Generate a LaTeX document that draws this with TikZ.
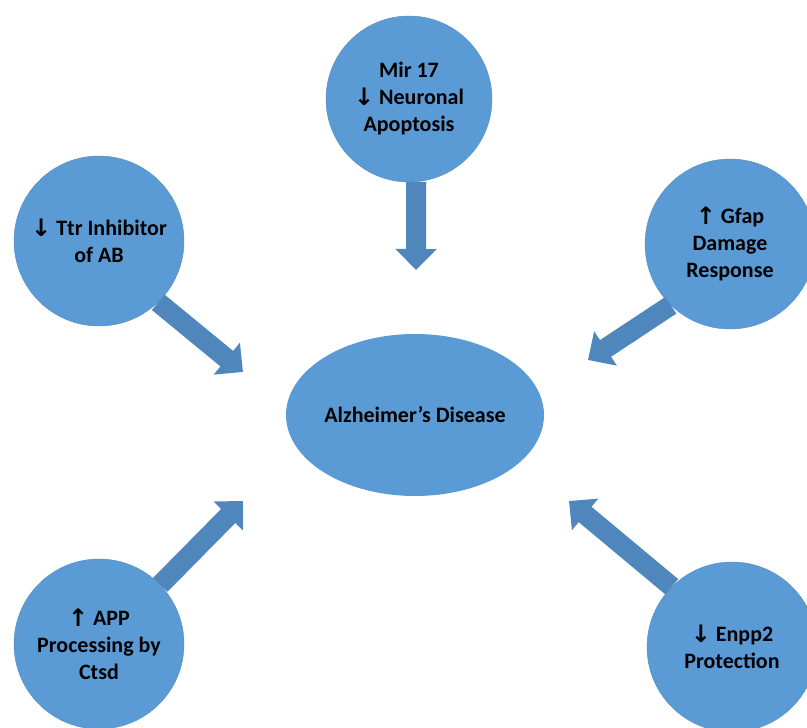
\documentclass[tikz,border=0pt]{standalone}
\usepackage{fontspec}
\setmainfont{Carlito}
\newfontfamily\arrowfont{DejaVu Sans}
\usetikzlibrary{arrows.meta,shapes.geometric}
\definecolor{bubble}{HTML}{5B9BD5}
\definecolor{arrowblue}{HTML}{4F87BD}
\newcommand{\up}{\raisebox{-1pt}{\arrowfont\fontsize{24}{27}\selectfont ↑}}
\newcommand{\down}{\raisebox{-1pt}{\arrowfont\fontsize{24}{27}\selectfont ↓}}
\begin{document}
\begin{tikzpicture}[x=1pt, y=-1pt,
  bubble/.style={circle, fill=bubble, draw=bubble!90!black, line width=0.4pt, minimum size=170pt, inner sep=0pt, align=center, font=\bfseries\fontsize{22}{27}\selectfont},
  bigarrow/.style={draw=arrowblue!90!black, line width=20pt, arrowblue, -{Triangle[width=40pt, length=21pt]}}]
\useasboundingbox (0,0) rectangle (807,728);
\clip (0,0) rectangle (807,728);
\node[ellipse, fill=bubble, inner sep=0pt, minimum width=258pt, minimum height=162pt, font=\bfseries\fontsize{22}{27}\selectfont] (AD) at (415,415) {Alzheimer’s Disease};
\node[bubble, minimum size=166pt] (Mir) at (409,99) {Mir 17\\ \down{} Neuronal\\ Apoptosis};
\node[bubble] (Ttr) at (99,241) {\down{} Ttr Inhibitor\\ of AB};
\node[bubble] (Gfap) at (730,244) {\up{} Gfap\\ Damage\\ Response};
\node[bubble] (APP) at (99,644) {\up{} APP\\ Processing by\\ Ctsd};
\node[bubble] (Enpp) at (732,647) {\down{} Enpp2\\ Protection};
% arrow tips
\coordinate (T_Mir) at (416,270);
\coordinate (T_Ttr) at (243,372);
\coordinate (T_Gfap) at (588,360);
\coordinate (T_APP) at (243,501);
\coordinate (T_Enpp) at (569,501);
\draw[bigarrow] (Mir.-85) -- (T_Mir);
\draw[bigarrow] (Ttr.-46) -- (T_Ttr);
\draw[bigarrow] (Gfap.226) -- (T_Gfap);
\draw[bigarrow] (APP.44) -- (T_APP);
\draw[bigarrow] (Enpp.135) -- (T_Enpp);
\end{tikzpicture}
\end{document}
